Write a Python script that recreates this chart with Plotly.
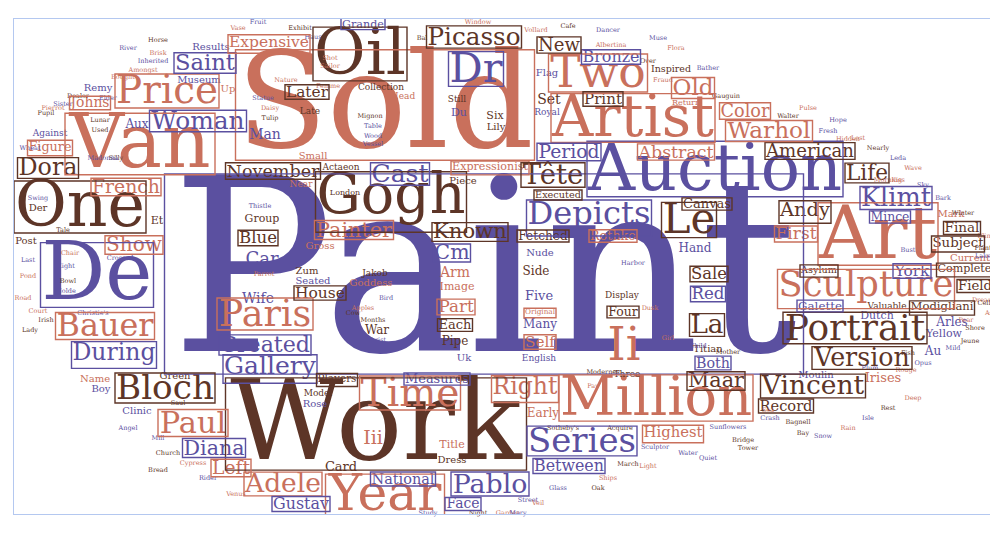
"""
Word cloud of auction / painting vocabulary, redrawn with plotly.
Each word is a text point on pixel-scaled axes, boxed words get a thin rectangle.
"""
import plotly.graph_objects as go

PURPLE = "#5b50a0"
SALMON = "#c9705c"
BROWN = "#5d3527"
TONES = {"P": PURPLE, "S": SALMON, "B": BROWN}

# ---- boxed words (tone letter per word, same order) ----
boxed_words = [
  "Paint", "Sold", "Work", "Auction", "Van", "Million", "Gogh", "Artist", "Sculpture", "Portrait",
  "Art", "One", "De", "Year", "Oil", "Depicts", "Series", "Time", "Two", "Price",
  "Bloch", "Version", "Vincent", "Bauer", "Paris", "Woman", "Picasso", "Gallery", "Created", "November",
  "American", "Warhol", "During", "Pablo", "Adele", "Painter", "Abstract", "Known", "Expressionist", "Klimt",
  "Paul", "French", "Right", "Between", "Measures", "Completed", "Modigliani", "Tête", "Period", "National",
  "Diana", "Saint", "Highest", "Dora", "Cast", "Bronze", "Show", "Maar", "Gustav", "Dr",
  "Le", "Record", "Subject", "Andy", "House", "Fetched", "Color", "Canvas", "Executed", "Rothko",
  "Galette", "Figure", "Later", "New", "Grande", "Life", "First", "Old", "Johns", "Mince",
  "Players", "Print", "Blue", "Left", "Part", "Sale", "Asylum", "York", "Cm", "Final",
  "Field", "Both", "Face", "Each", "Red", "La", "Four", "Original", "Self", "Expensive",
]
boxed_tone = ("PSBPSSBSSB" "SBPSBPPSSS" "BBBSSPBPPB" "BSPPSSSBSP" "SSSPPBBBPP"
              "PPSBPPSBPP" "BBBBBBSBBS" "PSBBPBSSSP" "BBBSSBBPPB" "BPPBPBBSSS")

# plain words (no frame)
plain_words = [
  "Ii", "Iii", "Car", "Group", "Irises", "Set", "Man", "Side", "Five", "Hand",
  "Arm", "Image", "Pipe", "Many", "Card", "Aux", "Arles", "Au", "Six", "War",
  "Wife", "Still", "Du", "Lily", "Title", "Inspired", "Flag", "Dutch", "Yellow", "Current",
  "Mark", "Small", "Dress", "Early", "Rose", "Piece", "Near", "Gross", "Zum", "Seated",
  "Der", "Post", "Et", "Against", "Remy", "Museum", "Up", "Name", "Boy", "Clinic",
  "Valuable", "Titian", "Display", "Head", "Late", "Nude", "Model", "Three", "English", "Uk",
  "Goddess", "Jakob", "Actaeon", "Collection", "London", "Results", "Royal", "Return", "Green", "Moulin",
]
plain_tone = ("SSPBSBPBPP" "SSBPBPPPBB" "PBPBSBPPPS" "SSBSPBSSBP"
              "BBBPPPSSPP" "BBBSBPBBPP" "SBBBBPPSBP")

# smallest filler words
tiny_words = [
  "Brisk", "Inherited", "Amongst", "Bought", "Elder", "Dealer", "Sister", "Pupil", "Lunar", "Used",
  "Wheat", "Silly", "Swing", "Tale", "Chair", "Eight", "Bowl", "Nolde", "Last", "Pond",
  "Road", "Court", "Irish", "Christie's", "Lady", "Crossed", "Exhibit", "Bal", "Vollard", "Haus",
  "Shot", "Sailor", "Nature", "Mignon", "Table", "Wood", "Vessel", "Femme", "Months", "Christ",
  "Cow", "Thistle", "Parrot", "Sunflowers", "Sculptor", "March", "Acquire", "Sotheby's", "Pay", "Modernes",
  "Gauguin", "Walter", "Fresh", "Hidden", "Kiss", "Sky", "Bark", "Plant", "Lake", "Dream",
  "Pear", "Shore", "Crash", "Bagnell", "Plum", "Rouge", "Fish", "Vecchio", "Orbit", "Study",
  "Night", "Garden", "Street", "Light", "Water", "Bridge", "Sea", "Mother", "Child", "Girl",
  "Dancer", "Cafe", "Window", "Fruit", "Vase", "Horse", "River", "Morning", "Winter", "Bust",
  "Albertina", "Over", "Fraud", "Bather", "Muse", "Pulse", "Hope", "Lost", "Nearly", "Leda",
  "Wave", "Blink", "Cello", "Ash", "Mild", "Jeune", "Opus", "Deep", "Rest", "Isle",
  "Rain", "Snow", "Bay", "Quiet", "Tower", "Ships", "Oak", "Glass", "Veil", "Mary",
  "Sunday", "Mill", "Church", "Cypress", "Rider", "Venus", "Saul", "Apples", "Bird", "Harbor",
  "Dusk", "Statue", "Daisy", "Tulip", "Madonna", "Pierrot", "Angel", "Lute", "Flora", "Bread",
]
tiny_tone = ("SPSSPBPBBB" "PBPBSPBPPS" "SSBPBPBBSP" "SSSBPPPSBP"
             "BPSPPBBBSB" "BBPSSPPBPS" "SBPBPSBSPP" "BSPSPBSBPS"
             "PBSPSBPSBP" "SBSPPSPSBP" "SSBSPBPSBP" "SPBPBSBPSP"
             "BPBSPSBSPP" "SPSBPSPSSB")

# ---- placement: boxed words = frame centre and frame width (px) ----
boxed_x = [476, 377, 368, 707, 132, 648, 383, 625, 858, 847,
           870, 72, 89, 377, 352, 581, 574, 402, 590, 159,
           157, 854, 805, 97, 257, 190, 466, 262, 257, 265,
           802, 761, 106, 482, 275, 346, 668, 462, 482, 888,
           185, 118, 517, 561, 429, 960, 934, 545, 561, 395,
           206, 197, 665, 40, 392, 603, 126, 708, 293, 468,
           681, 778, 950, 797, 312, 535, 737, 699, 550, 605,
           812, 42, 299, 551, 355, 859, 788, 685, 82, 882,
           329, 595, 250, 223, 448, 701, 811, 904, 444, 954,
           967, 705, 455, 447, 700, 699, 615, 532, 532, 261]
boxed_y = [266, 97, 416, 161, 136, 390, 194, 110, 281, 320,
           226, 199, 267, 487, 46, 210, 433, 385, 65, 83,
           380, 350, 378, 318, 306, 113, 29, 361, 337, 163,
           143, 123, 347, 476, 476, 222, 144, 224, 160, 190,
           415, 179, 381, 458, 371, 262, 300, 167, 144, 471,
           440, 55, 426, 160, 166, 49, 237, 373, 496, 61,
           212, 398, 236, 204, 285, 228, 103, 196, 187, 228,
           298, 140, 84, 37, 16, 165, 226, 80, 95, 209,
           372, 91, 230, 460, 299, 266, 263, 263, 245, 220,
           278, 355, 496, 317, 286, 317, 304, 305, 334, 36]
boxed_w = [639, 299, 301, 256, 150, 194, 151, 164, 177, 144,
           120, 132, 113, 119, 94, 125, 110, 101, 99, 104,
           100, 100, 105, 99, 96, 97, 95, 94, 92, 95,
           90, 87, 85, 78, 78, 79, 77, 76, 78, 72,
           70, 70, 67, 72, 66, 63, 65, 64, 64, 65,
           63, 62, 61, 61, 59, 59, 58, 58, 58, 55,
           55, 55, 53, 52, 52, 52, 51, 50, 48, 48,
           46, 45, 44, 44, 44, 44, 43, 43, 41, 41,
           41, 40, 40, 40, 38, 38, 38, 38, 37, 37,
           36, 36, 36, 35, 35, 35, 32, 32, 32, 82]

# plain words: centre of the capital height, font size
plain_x = [616, 365, 254, 254, 875, 541, 257, 528, 531, 687,
           447, 449, 447, 532, 333, 129, 944, 925, 487, 369,
           250, 449, 451, 488, 444, 663, 539, 869, 936, 962,
           943, 305, 444, 535, 307, 455, 293, 312, 299, 305,
           30, 18, 149, 42, 90, 191, 220, 87, 93, 129,
           879, 700, 614, 395, 302, 532, 310, 619, 531, 456,
           363, 367, 333, 373, 337, 203, 539, 678, 167, 808]
plain_y = [338, 430, 252, 211, 370, 92, 127, 263, 288, 240,
           265, 279, 333, 316, 459, 116, 314, 343, 108, 322,
           291, 91, 105, 119, 437, 61, 65, 308, 326, 250,
           206, 148, 452, 405, 396, 173, 176, 238, 263, 273,
           200, 233, 213, 125, 80, 72, 81, 371, 381, 403,
           298, 341, 287, 88, 103, 245, 385, 366, 350, 350,
           275, 265, 159, 79, 185, 39, 104, 95, 368, 367]
plain_size = [46, 19, 18, 11, 13, 14, 14, 12, 13, 12,
              14, 11, 12, 12, 13, 12, 12, 12, 11, 12,
              14, 9, 11, 10, 11, 9.5, 10, 11, 11, 10,
              10, 10, 10, 12, 10, 10, 9, 10, 10, 10,
              10, 10, 11, 9, 10, 10, 10, 10, 10, 10,
              9, 10, 9, 9, 9, 10, 9, 9, 9, 10,
              10, 9, 9, 9, 8, 10, 9, 8, 10, 10]

tiny_x = [150, 145, 135, 115, 100, 70, 55, 38, 92, 92,
          22, 108, 30, 55, 62, 58, 60, 58, 20, 20,
          15, 30, 38, 85, 22, 112, 292, 414, 528, 305,
          322, 322, 278, 362, 365, 365, 365, 320, 365, 368,
          345, 252, 256, 720, 647, 620, 612, 555, 585, 595,
          718, 780, 820, 840, 890, 915, 935, 975, 975, 975,
          958, 967, 762, 790, 862, 898, 900, 330, 372, 420,
          470, 500, 520, 640, 680, 735, 760, 720, 690, 660,
          600, 560, 470, 250, 230, 150, 120, 880, 955, 900,
          603, 640, 655, 700, 650, 800, 830, 850, 870, 890,
          905, 978, 978, 983, 945, 962, 915, 905, 880, 860,
          840, 815, 795, 700, 740, 600, 590, 550, 530, 510,
          470, 150, 160, 185, 200, 228, 170, 355, 378, 625,
          642, 255, 262, 262, 95, 45, 120, 250, 668, 150]
tiny_y = [45, 53, 62, 69, 90, 88, 96, 105, 112, 122,
          140, 150, 190, 222, 245, 258, 273, 283, 252, 268,
          290, 303, 312, 305, 322, 250, 20, 30, 22, 29,
          50, 58, 72, 108, 118, 128, 136, 78, 312, 332,
          305, 198, 266, 419, 439, 456, 420, 420, 378, 364,
          88, 108, 123, 131, 172, 177, 190, 240, 248, 292,
          312, 320, 410, 414, 360, 362, 345, 512, 512, 505,
          505, 505, 492, 458, 445, 432, 402, 344, 338, 330,
          22, 18, 14, 14, 20, 32, 40, 172, 205, 242,
          37, 53, 72, 60, 30, 100, 112, 130, 140, 150,
          160, 228, 295, 305, 340, 333, 355, 390, 400, 410,
          420, 428, 425, 450, 440, 470, 480, 480, 495, 505,
          513, 430, 445, 455, 470, 486, 395, 300, 290, 255,
          300, 90, 100, 110, 150, 100, 420, 512, 40, 462]


EM = {
  "a": .596, "b": .640, "c": .560, "d": .640, "e": .592, "f": .370, "g": .640, "h": .644,
  "i": .320, "j": .310, "k": .606, "l": .320, "m": .948, "n": .644, "o": .602, "p": .640,
  "q": .640, "r": .478, "s": .513, "t": .402, "u": .644, "v": .565, "w": .856, "x": .564,
  "y": .565, "z": .523, "ê": .592, "'": .300,
  "A": .722, "B": .735, "C": .765, "D": .802, "E": .730, "F": .694, "G": .799, "H": .872,
  "I": .395, "J": .401, "K": .747, "L": .664, "M": 1.024, "N": .875, "O": .820, "P": .673,
  "Q": .820, "R": .753, "S": .685, "T": .667, "U": .843, "V": .722, "W": 1.028, "X": .712,
  "Y": .660, "Z": .695,
}
CAP = 0.729      # capital height / em
ASC = 0.760      # ascender height / em
DESC = 0.235     # descender depth / em
SHIFT = 0.31     # baseline offset under a "middle center" text point, in em


def em_width(word: str) -> float:
  return sum(EM.get(ch, .6) for ch in word)


xs, ys, texts, sizes, colors = [], [], [], [], []
shapes = []

for word, tone, cx, cy, w in zip(boxed_words, boxed_tone, boxed_x, boxed_y, boxed_w):
  size = (w - 2) / em_width(word)
  pad = 0.03 * size + 1
  top = ASC if any(c in "bdfhkltiêT" for c in word[1:]) else CAP
  desc = DESC if any(c in "gjpqy" for c in word) else 0.0
  height = (top + desc) * size + 2 * pad
  baseline = cy + height / 2 - pad - desc * size
  xs.append(cx)
  ys.append(baseline - SHIFT * size)
  texts.append(word)
  sizes.append(size)
  colors.append(TONES[tone])
  shapes.append(dict(
    type = "rect", xref = "x", yref = "y",
    x0 = cx - w / 2, x1 = cx + w / 2,
    y0 = cy - height / 2, y1 = cy + height / 2,
    line = dict(color = TONES[tone], width = 1.4),
    fillcolor = "rgba(0,0,0,0)",
    layer = "above",
  ))

for word, tone, cx, cy, size in zip(plain_words, plain_tone, plain_x, plain_y, plain_size):
  baseline = cy + CAP * size / 2
  xs.append(cx)
  ys.append(baseline - SHIFT * size)
  texts.append(word)
  sizes.append(size)
  colors.append(TONES[tone])

for word, tone, cx, cy in zip(tiny_words, tiny_tone, tiny_x, tiny_y):
  size = 6.5
  xs.append(cx)
  ys.append(cy + CAP * size / 2 - SHIFT * size)
  texts.append(word)
  sizes.append(size)
  colors.append(TONES[tone])

layout = go.Layout(
  width = 998, height = 550,
  margin = dict(l = 6, r = 4, t = 11, b = 44),
  paper_bgcolor = "white", plot_bgcolor = "white",
  showlegend = False,
  xaxis = dict(range = [6, 994], showline = True, mirror = True, linecolor = "#b4c8f0",
               linewidth = 1, showgrid = False, zeroline = False, showticklabels = False,
               ticks = "", fixedrange = True),
  yaxis = dict(range = [506, 11], showline = True, mirror = True, linecolor = "#b4c8f0",
               linewidth = 1, showgrid = False, zeroline = False, showticklabels = False,
               ticks = "", fixedrange = True),
  shapes = shapes,
)
fig = go.Figure(layout = layout)
fig.add_trace(
  go.Scatter(
    x = xs, y = ys, text = texts,
    mode = "text",
    textposition = "middle center",
    textfont = dict(family = "DejaVu Serif", size = sizes, color = colors),
    hoverinfo = "skip",
    cliponaxis = False,
  )
)
fig.write_html("out.html", config = dict(displayModeBar = False))
